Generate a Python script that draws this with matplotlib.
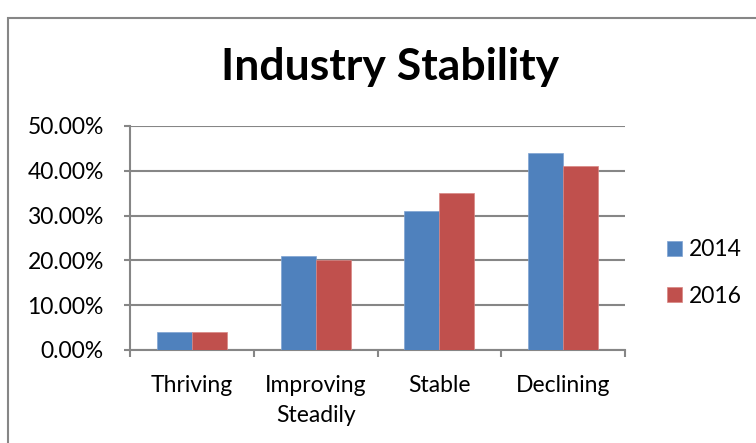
import matplotlib.pyplot as plt
import numpy as np
from matplotlib.patches import Rectangle
from matplotlib.ticker import FuncFormatter, MultipleLocator

categories = ["Thriving", "Improving\nSteadily", "Stable", "Declining"]
series_names = ["2014", "2016"]
values_2014 = [4.0, 21.0, 31.0, 44.0]
values_2016 = [4.0, 20.0, 35.0, 41.0]
colors = ["#4F81BD", "#C0504D"]

plt.rcParams["font.family"] = ["Lato", "DejaVu Sans"]

fig = plt.figure(figsize=(7.56, 4.43), dpi=100)

# chart area frame, runs off the right and bottom edges
fig.patches.append(Rectangle((8 / 756, -0.1), 1.0, (443 - 18) / 443 + 0.1,
                             transform=fig.transFigure, fill=False,
                             edgecolor="#868686", linewidth=1.5))

ax = fig.add_axes([130 / 756, 93 / 443, 495 / 756, 224 / 443])

x = np.arange(len(categories))
width = 0.283
ax.bar(x - width / 2, values_2014, width, color=colors[0], label=series_names[0],
       edgecolor="#7FA3D2", linewidth=0.5, zorder=3)
ax.bar(x + width / 2, values_2016, width, color=colors[1], label=series_names[1],
       edgecolor="#D98683", linewidth=0.5, zorder=3)

ax.set_xlim(-0.5, len(categories) - 0.5)
ax.set_ylim(0, 50)
ax.yaxis.set_major_locator(MultipleLocator(10))
ax.yaxis.set_major_formatter(FuncFormatter(lambda v, p: f"{v:.2f}%"))
ax.grid(axis="y", color="#868686", linewidth=1.5, zorder=0)

for side in ["top", "right"]:
    ax.spines[side].set_visible(False)
for side in ["left", "bottom"]:
    ax.spines[side].set_color("#868686")
    ax.spines[side].set_linewidth(1.5)

ax.set_xticks(x)
ax.set_xticklabels(categories, fontsize=16.5, linespacing=1.5)
ax.set_xticks(np.arange(len(categories) + 1) - 0.5, minor=True)
ax.tick_params(axis="x", which="major", length=0, pad=18)
ax.tick_params(axis="x", which="minor", length=5, width=1.5, color="#868686")
ax.tick_params(axis="y", length=4.3, width=1.5, color="#868686", labelsize=16.5, pad=14.5)

fig.text(0.516, 0.819, "Industry Stability", ha="center", va="baseline",
         fontsize=32, fontweight="bold")

fig.legend(loc="center left", bbox_to_anchor=(658 / 756, (443 - 273) / 443),
           frameon=False, fontsize=16.5, handlelength=0.65, handleheight=0.65,
           handletextpad=0.3, labelspacing=1.1, borderaxespad=0)

fig.savefig("out.png", dpi=100, facecolor="white")
